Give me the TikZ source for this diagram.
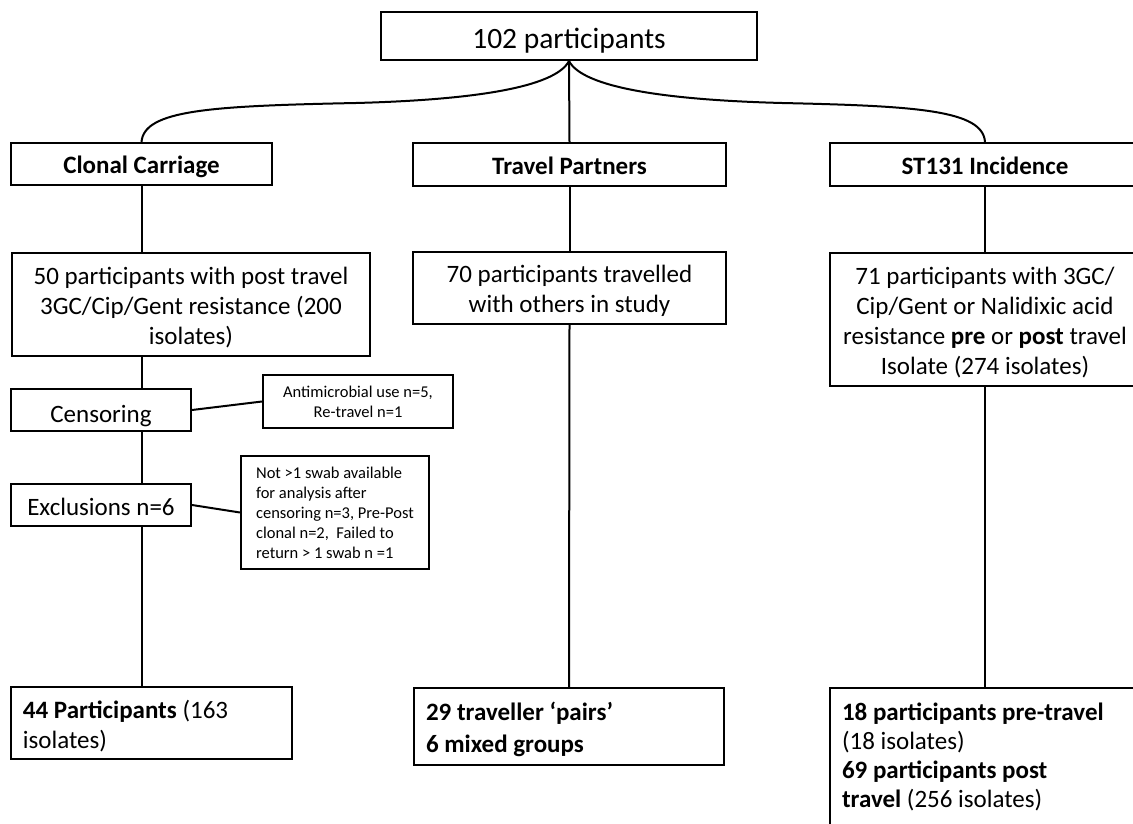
\documentclass[tikz,border=0pt]{standalone}
\usepackage{fontspec}
\setmainfont{Carlito}
\usepackage{tikz}

\begin{document}
\begin{tikzpicture}[x=1pt, y=-1pt, line width=2pt,
        box/.style={draw, inner sep=0pt, align=center, font=\fontsize{25}{30}\selectfont},
        leftbox/.style={box, align=flush left, inner xsep=12pt},
        head/.style={box, text height=20pt, text depth=0pt, font=\bfseries\fontsize{25}{30}\selectfont},
        small/.style={box, font=\fontsize{16.5}{20}\selectfont}]
        \useasboundingbox (0,0) rectangle (1133,824);
        \clip (0,0) rectangle (1133,824);
        \node[box, minimum width=376pt, minimum height=48pt, text height=26pt, text depth=0pt, font=\fontsize{29.5}{35}\selectfont] (top) at (569,36) {102 participants};
        \node[head, minimum width=261pt, minimum height=42pt] (clonal) at (141.5,164) {Clonal Carriage};
        \node[head, minimum width=313pt, minimum height=43pt] (partners) at (569.5,164.5) {Travel Partners};
        \node[head, minimum width=310pt, minimum height=43pt] (incidence) at (985,164.5) {ST131 Incidence};
        \node[box, minimum width=358pt, minimum height=103pt] (fifty) at (191,304.5) {\rule{0pt}{24pt}50 participants with post travel\\3GC/Cip/Gent resistance (200\\isolates)};
        \node[box, minimum width=313pt, minimum height=72pt] (seventy) at (569.5,288) {\rule{0pt}{24pt}70 participants travelled\\with others in study};
        \node[box, minimum width=310pt, minimum height=133pt] (seventyone) at (985,319.5) {\rule{0pt}{24pt}71 participants with 3GC/\\Cip/Gent or Nalidixic acid\\resistance \textbf{pre} or \textbf{post} travel\\Isolate (274 isolates)};
        \node[box, minimum width=180pt, minimum height=42pt, text height=24pt, text depth=0pt] (censoring) at (101,410) {Censoring};
        \node[small, minimum width=190pt, minimum height=53pt] (antimicrobial) at (358,401.5) {Antimicrobial use n=5,\\Re-travel n=1};
        \node[box, minimum width=180pt, minimum height=42pt, text height=20pt, text depth=0pt] (exclusions) at (101,505) {Exclusions n=6};
        \node[small, align=left, minimum width=188pt, minimum height=113pt] (notswab) at (335,512.5) {Not >1 swab available\\for analysis after\\censoring n=3, Pre-Post\\clonal n=2,~ Failed to\\return > 1 swab n =1};
        \node[leftbox, text width=257pt, minimum height=72pt] (fortyfour) at (151.5,723) {\rule{0pt}{24pt}\textbf{44 Participants} (163\\isolates)};
        \node[leftbox, text width=286pt, minimum height=77pt, font=\bfseries\fontsize{25}{32}\selectfont] (pairs) at (569,726.5) {\rule{0pt}{24pt}29 traveller `pairs'\\6 mixed groups};
        \node[leftbox, text width=286pt, minimum height=137pt, font=\fontsize{25}{29}\selectfont] (eighteen) at (985,756.5) {\textbf{18 participants pre-travel}\\(18 isolates)\\\textbf{69 participants post}\\\textbf{travel} (256 isolates)};
        \coordinate (lmid) at (356,103);
        \coordinate (rmid) at (782,103);
        \draw (top.south) .. controls (555,88) and (470,100) .. (lmid) .. controls (210,106) and (144,110) .. (clonal.north);
        \draw (top.south) .. controls (583,88) and (668,100) .. (rmid) .. controls (916,106) and (983,110) .. (incidence.north);
        \draw (top.south) -- (partners.north);
        \draw (clonal.south) -- (clonal.south |- fifty.north);
        \draw (clonal.south |- fifty.south) -- (clonal.south |- censoring.north);
        \draw (clonal.south |- censoring.south) -- (clonal.south |- exclusions.north);
        \draw (clonal.south |- exclusions.south) -- (clonal.south |- fortyfour.north);
        \draw (censoring.east) -- (antimicrobial.west);
        \draw (exclusions.east) -- (notswab.west);
        \draw (partners.south) -- (seventy.north);
        \draw (seventy.south) -- (pairs.north);
        \draw (incidence.south) -- (seventyone.north);
        \draw (seventyone.south) -- (eighteen.north);
\end{tikzpicture}
\end{document}
